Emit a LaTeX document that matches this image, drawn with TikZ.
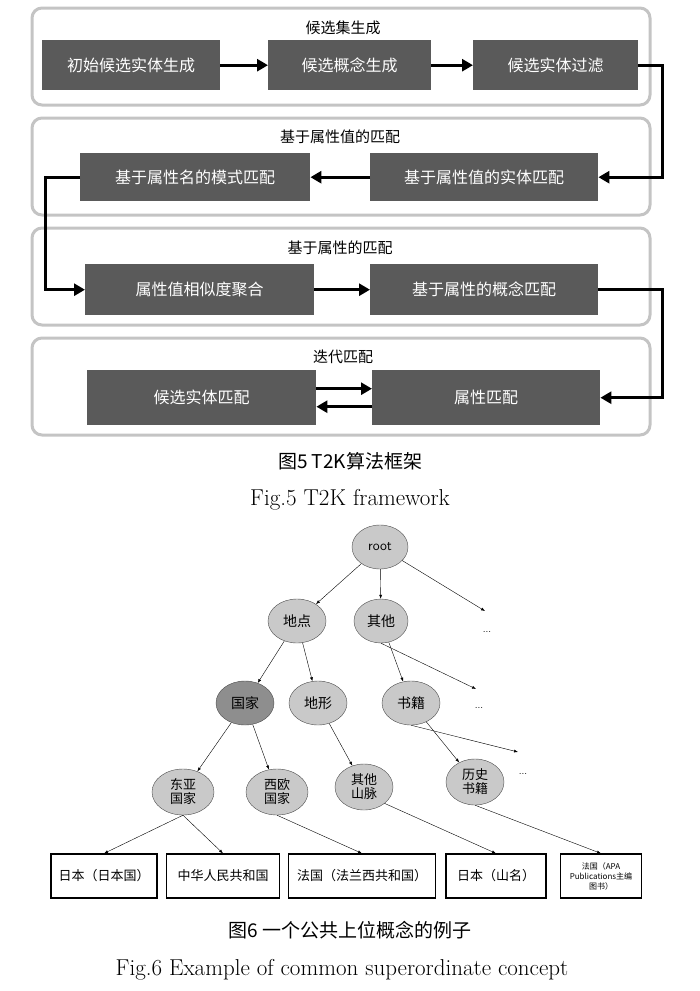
\documentclass[tikz,border=0pt]{standalone}
\usepackage{fontspec}
\newfontfamily\cjk{Noto Sans CJK SC}
\usetikzlibrary{arrows.meta, shapes.geometric, positioning}
\definecolor{boxgray}{HTML}{5A5A5A}
\definecolor{panelgray}{HTML}{C4C4C4}
\definecolor{nodegray}{HTML}{C9C9C9}
\definecolor{darkgray}{HTML}{8E8E8E}
\tikzset{
  panel/.style = {draw=panelgray, line width=3pt, rounded corners=10pt},
  stage/.style = {fill=boxgray, text=white, font=\cjk\fontsize{16}{18}\selectfont, anchor=north west, inner sep=0pt},
  flow/.style = {line width=3pt, -{Triangle[length=11pt, width=12pt]}},
  concept/.style = {ellipse, draw=black!70, fill=nodegray, font=\cjk\fontsize{14}{15}\selectfont, inner sep=1pt},
  leaf/.style = {draw, line width=1.2pt, font=\cjk\fontsize{13}{15}\selectfont, inner sep=0pt},
  edge/.style = {-{Latex[length=4pt, width=3pt]}, thin}
}
\begin{document}
\begin{tikzpicture}[x=1pt, y=-1pt]
  \useasboundingbox (0,0) rectangle (700,991);

  %% T2K framework

  % Panels
  \draw[panel] (32,8) rectangle (650,105);
  \draw[panel] (32,118) rectangle (650,215);
  \draw[panel] (32,228) rectangle (650,325);
  \draw[panel] (32,338) rectangle (650,435);
  \node[font=\cjk\fontsize{15}{16}\selectfont] (t1) at (343,28) {候选集生成};
  \node[font=\cjk\fontsize{15}{16}\selectfont] (t2) at (340,137) {基于属性值的匹配};
  \node[font=\cjk\fontsize{15}{16}\selectfont] (t3) at (340,248) {基于属性的匹配};
  \node[font=\cjk\fontsize{15}{16}\selectfont] (t4) at (343,357) {迭代匹配};

  % Stages
  \node[stage, minimum width=178pt, minimum height=50pt] (init) at (42,40) {初始候选实体生成};
  \node[stage, minimum width=163pt, minimum height=50pt] (cand) at (268,40) {候选概念生成};
  \node[stage, minimum width=165pt, minimum height=50pt] (filt) at (473,40) {候选实体过滤};
  \node[stage, minimum width=230pt, minimum height=48pt] (schema) at (80,153) {基于属性名的模式匹配};
  \node[stage, minimum width=228pt, minimum height=48pt] (valmatch) at (370,153) {基于属性值的实体匹配};
  \node[stage, minimum width=229pt, minimum height=51pt] (simagg) at (85,264) {属性值相似度聚合};
  \node[stage, minimum width=228pt, minimum height=51pt] (attrcon) at (370,264) {基于属性的概念匹配};
  \node[stage, minimum width=229pt, minimum height=55pt] (entmatch) at (87,370) {候选实体匹配};
  \node[stage, minimum width=228pt, minimum height=55pt] (attrmatch) at (372,370) {属性匹配};

  % Flow
  \draw[flow] (init) -- (cand);
  \draw[flow] (cand) -- (filt);
  \draw[flow] (filt.east) -| (662,100) |- (valmatch.east);
  \draw[flow] (valmatch) -- (schema);
  \draw[flow] (schema.west) -| (45,230) |- (simagg.west);
  \draw[flow] (simagg) -- (attrcon);
  \draw[flow] (attrcon.east) -| (662,350) |- (attrmatch.east);
  \draw[flow] ([yshift=9pt]entmatch.east) -- ([yshift=9pt]attrmatch.west);
  \draw[flow] ([yshift=-9pt]attrmatch.west) -- ([yshift=-9pt]entmatch.east);

  % Caption
  \node[font=\cjk\fontsize{19}{20}\selectfont] (cap5) at (350,461) {图5 T2K算法框架};
  \node[font=\fontsize{23}{24}\selectfont] (fig5) at (350,500) {Fig.5 T2K framework};

  %% Superordinate concepts

  % Concepts
  \node[concept, font=\sffamily\fontsize{14}{15}\selectfont, minimum width=56pt, minimum height=44pt] (root) at (380,547) {root};
  \node[concept, minimum width=58pt, minimum height=44pt] (place) at (297,621) {地点};
  \node[concept, minimum width=54pt, minimum height=44pt] (other) at (381,621) {其他};
  \node[concept, fill=darkgray, minimum width=58pt, minimum height=44pt] (country) at (245,703) {国家};
  \node[concept, minimum width=58pt, minimum height=44pt] (terrain) at (318,703) {地形};
  \node[concept, minimum width=58pt, minimum height=44pt] (book) at (411,703) {书籍};
  \node[concept, align=center, font=\cjk\fontsize{13}{14}\selectfont, minimum width=62pt, minimum height=46pt] (eastasia) at (183,792) {东亚\\国家};
  \node[concept, align=center, font=\cjk\fontsize{13}{14}\selectfont, minimum width=62pt, minimum height=46pt] (westeu) at (277,792) {西欧\\国家};
  \node[concept, align=center, font=\cjk\fontsize{13}{14}\selectfont, minimum width=58pt, minimum height=46pt] (mountain) at (364,787) {其他\\山脉};
  \node[concept, align=center, font=\cjk\fontsize{13}{14}\selectfont, minimum width=58pt, minimum height=46pt] (history) at (475,782) {历史\\书籍};
  \node (dots1) at (487,632) {...};
  \node (dots2) at (479,708) {...};
  \node (dots3) at (523,774) {...};
  \coordinate (end1) at (485,611);
  \coordinate (end2) at (476,689);
  \coordinate (end3) at (518,752);

  % Leaves
  \node[leaf, minimum width=106pt, minimum height=44pt] (japan) at (104,876) {日本（日本国）};
  \node[leaf, minimum width=113pt, minimum height=44pt] (china) at (223,876) {中华人民共和国};
  \node[leaf, minimum width=147pt, minimum height=44pt] (france) at (362,876) {法国（法兰西共和国）};
  \node[leaf, minimum width=100pt, minimum height=44pt] (mtjapan) at (496,876) {日本（山名）};
  \node[leaf, align=center, font=\cjk\fontsize{8}{10}\selectfont, minimum width=81pt, minimum height=44pt] (apa) at (601,876) {法国（APA\\Publications主编\\图书）};

  % Edges
  \draw[edge] (root) -- (place);
  \draw[edge] (root) -- (other);
  \draw[edge] (root) -- (end1);
  \draw[edge] (place) -- (country);
  \draw[edge] (place) -- (terrain);
  \draw[edge] (other) -- (book);
  \draw[edge] (other.south) -- (end2);
  \draw[edge] (book) -- (history);
  \draw[edge] (book.south) -- (end3);
  \draw[edge] (country) -- (eastasia);
  \draw[edge] (country) -- (westeu);
  \draw[edge] (terrain) -- (mountain);
  \draw[edge] (eastasia.south) -- (japan.north);
  \draw[edge] (eastasia.south) -- (china.north);
  \draw[edge] (westeu.south) -- (france.north);
  \draw[edge] (mountain.south east) -- (mtjapan.north);
  \draw[edge] (history.south) -- (apa.north);

  % Caption
  \node[font=\cjk\fontsize{19}{20}\selectfont] (cap6) at (350,930) {图6 一个公共上位概念的例子};
  \node[font=\fontsize{23}{24}\selectfont] (fig6) at (342,970) {Fig.6 Example of common superordinate concept};
\end{tikzpicture}
\end{document}
